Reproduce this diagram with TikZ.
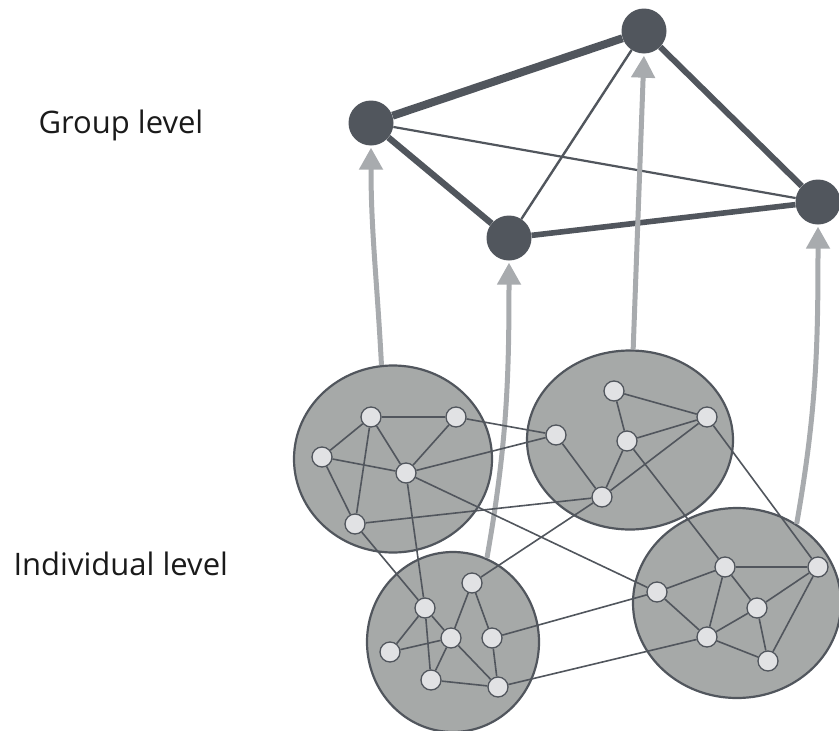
\documentclass[tikz,border=0pt]{standalone}
\usepackage{fontspec}
\setmainfont{Open Sans}
\usetikzlibrary{arrows.meta,shapes.geometric}
\definecolor{slate}{HTML}{51565D}
\definecolor{blob}{HTML}{A6A9A8}
\definecolor{dot}{HTML}{E1E2E4}
\definecolor{lift}{HTML}{A8ABAE}
\definecolor{ink}{HTML}{1A1A1A}

\begin{document}
\begin{tikzpicture}[x=1pt, y=-1pt,
    grp/.style={circle, fill=slate, minimum size=45pt, inner sep=0pt},
    clus/.style={ellipse, draw=slate, fill=blob, line width=2.2pt, inner sep=0pt},
    ind/.style={circle, draw=slate, fill=dot, line width=1.3pt, minimum size=20pt, inner sep=0pt},
    tie/.style={slate, line width=1.6pt},
    liftarr/.style={lift, line width=5pt, -{Triangle[length=22pt,width=23pt]}, shorten >=2pt},
    lbl/.style={anchor=base west, font=\fontsize{31}{36}\selectfont, text=ink}]
  \useasboundingbox (0,0) rectangle (839,731);

  % level labels
  \node[lbl] (grplbl) at (35,133) {Group level};
  \node[lbl] (indlbl) at (10,575) {Individual level};

  % group level: four nodes, weighted links
  \node[grp] (g1) at (371,123) {};
  \node[grp] (g2) at (644,31) {};
  \node[grp] (g3) at (509,238) {};
  \node[grp] (g4) at (818,202) {};
  \foreach \p/\q/\w in {g1/g2/8, g2/g4/6, g1/g3/6.3, g3/g4/5.6, g1/g4/2.2, g3/g2/2.4}
    \draw[slate, line width=\w pt] (\p) -- (\q);

  % individual level: one blob per group
  \node[clus, minimum width=198pt, minimum height=187pt] (clA) at (393,459) {};
  \node[clus, minimum width=206pt, minimum height=179pt] (clB) at (630,440) {};
  \node[clus, minimum width=172pt, minimum height=180pt] (clC) at (453,642) {};
  \node[clus, minimum width=208pt, minimum height=190pt] (clD) at (737,603) {};

  % aggregation arrows
  \draw[liftarr] (clA.97) to[out=93, in=-90] (g1.south);
  \draw[liftarr] (clC.68) to[out=80, in=-90] (g3.south);
  \draw[liftarr] (clB.88) -- (g2.south);
  \draw[liftarr] (clD.53) to[out=80, in=-90] (g4.south);

  % members
  \foreach \n/\x/\y in {a1/371/417, a2/456/417, a3/322/457, a4/406/473, a5/355/524,
      b1/556/435, b2/614/391, b3/707/417, b4/627/441, b5/602/497,
      c1/425/608, c2/472/583, c3/451/638, c4/492/638, c5/390/652, c6/431/680, c7/498/687,
      d1/657/592, d2/725/567, d3/707/637, d4/818/567, d5/757/608, d6/768/661}
    \node[ind] (\n) at (\x,\y) {};

  % ties inside and across groups
  \foreach \p/\q in {a1/a2, a1/a3, a1/a4, a1/a5, a2/a4, a3/a4, a3/a5,
      b2/b3, b2/b4, b4/b3, b1/b5, b4/b5, b5/b3,
      c1/c3, c1/c5, c1/c6, c2/c3, c2/c4, c3/c5, c3/c6, c3/c7, c4/c7, c6/c7,
      d1/d2, d1/d3, d2/d3, d2/d4, d2/d5, d3/d5, d3/d6, d5/d4, d5/d6, d4/d6,
      a4/c1, a5/c1, a2/b1, a4/b1, a4/d1, a5/b5, b4/d2, b3/d4, b5/c2, c4/d1, c7/d3}
    \draw[tie] (\p) -- (\q);
\end{tikzpicture}
\end{document}
